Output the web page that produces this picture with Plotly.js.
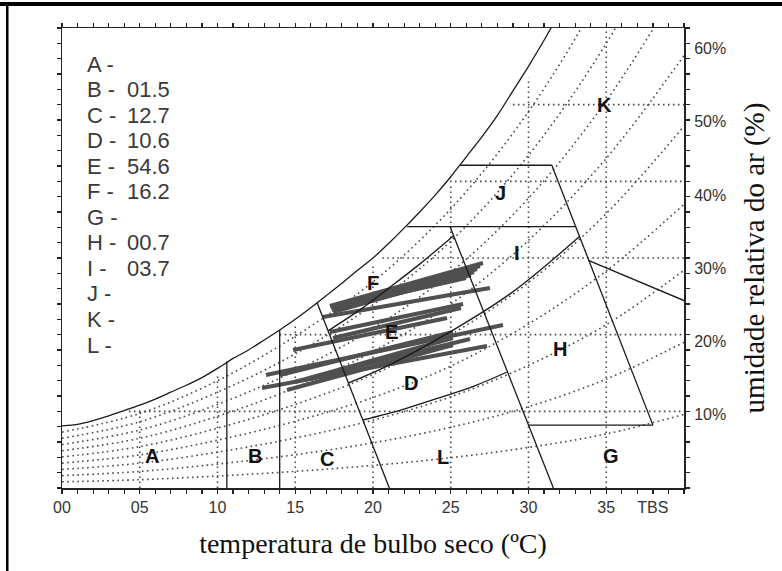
<!DOCTYPE html>
<html><head><meta charset="utf-8">
<script src="https://cdn.plot.ly/plotly-3.0.1.min.js"></script>
<style>html,body{margin:0;padding:0;background:#fff;}</style>
</head><body>
<div id="chart" style="width:782px;height:571px;"></div>
<script>
// Saturation curve (100% RH)
const satT = [0,1,2,3,4,5,6,7,8,9,10,11,12,13,14,15,16,17,18,19,20,21,22,23,24,25,26,27,28,29,30,31,32,33,34,35,36,37,38,39,40];
const satW = [8.1,8.3,8.8,9.4,10.1,10.8,11.6,12.5,13.4,14.4,15.6,16.9,18.0,19.3,20.6,22.0,23.5,25.1,26.7,28.4,30.0,31.9,33.9,36.0,38.2,40.6,43.2,45.8,48.6,51.8,55.0,58.4,62.0,65.8,69.8,74.2,78.8,83.8,89.0,94.6,100.4];

// Relative humidity dotted curves (10%..90%)
const rhT  = [0,5,10,15,20,25,30,35,40];
const rh10 = [0.81,1.08,1.56,2.17,2.94,3.95,5.29,7.05,9.6];
const rh20 = [1.62,2.16,3.12,4.34,5.89,7.92,10.6,14.2,19.0];
const rh30 = [2.43,3.24,4.68,6.52,8.85,11.9,16.0,21.3,28.4];
const rh40 = [3.24,4.32,6.24,8.71,11.8,15.9,21.4,28.3,37.0];
const rh50 = [4.05,5.40,7.80,10.9,14.8,20.0,26.8,35.8,47.2];
const rh60 = [4.86,6.48,9.36,13.1,17.8,24.0,32.3,43.0,56.4];
const rh70 = [5.67,7.56,10.9,15.3,20.8,28.1,37.8,50.5,66.5];
const rh80 = [6.48,8.64,12.5,17.5,23.9,32.2,43.4,58.0,76.5];
const rh90 = [7.29,9.72,14.0,19.8,26.9,36.4,49.1,65.8,87.0];

// Dotted grid, clipped under the saturation curve
const gridX    = [5,10,15,20,25,30,35];
const gridXTop = [10.3,15.0,21.2,29.0,39.5,53.5,60];
const gridY      = [10,20,30,40,50];
const gridYStart = [4.3,14.0,20.6,24.95,29.0];

// Zone boundary segments
const zoneLinesX = [[10.6,10.6],[14.0,14.0],[16.4,21.05],[24.95,31.6],[22.2,33.0],[25.6,31.5],[31.5,38.0],[33.85,40],[30.0,38.0]];
const zoneLinesY = [[0,16.5],[0,20.6],[24.2,0],[34.1,0],[34.1,34.1],[42.1,42.1],[42.1,8.2],[29.7,24.45],[8.2,8.2]];

// Solid RH boundary curves
const curve80X = [17.11,19.2,21.1,23.0,25.18];
const curve80Y = [20.5,23.3,26.2,29.2,32.9];
const curve50X = [18.43,21.0,25.15,29.0,33.28];
const curve50Y = [13.7,16.0,20.6,25.6,32.8];
const curve30X = [19.35,22.0,24.3,26.5,28.6];
const curve30Y = [8.87,10.3,11.8,13.3,15.1];

// Recorded tracks (start/end)
const trackX0 = [17.23,17.30,17.36,17.43,17.56,17.75, 16.78,17.23,17.43,14.86, 13.12,12.86,14.47,14.02,14.98,15.95];
const trackY0 = [23.74,23.48,23.22,22.96,23.35,23.61, 22.30,20.35,19.56,18.00, 14.74,13.04,12.78,14.74,13.83,14.35];
const trackX1 = [27.07,26.88,26.69,26.50,26.30,25.98, 27.52,25.79,25.66,24.76, 28.36,27.33,25.14,25.14,25.14,26.24];
const trackY1 = [29.35,28.96,28.57,28.17,27.78,27.39, 26.09,24.00,23.48,22.17, 21.26,18.52,18.65,20.35,19.56,19.43];

// Zone labels
const zoneNames = ['A','B','C','D','E','F','G','H','I','J','K','L'];
const zoneLabelX = [5.79,12.41,17.02,22.44,21.16,20.0,35.3,32.0,29.24,28.17,34.9,24.5];
const zoneLabelY = [4.17,4.17,3.78,13.76,20.4,26.8,4.17,18.1,30.65,38.5,50.0,4.04];
const zoneValues = ['','01.5','12.7','10.6','54.6','16.2','','00.7','03.7','','',''];

// Axis ticks
const xTickVals = [0,5,10,15,20,25,30,35,38];
const xTickText = ['00','05','10','15','20','25','30','35','TBS'];
const yTickVals = [10,20,30,40,50,60];
const yTickText = ['10%','20%','30%','40%','50%','60%'];

const DOT = {color:'#4a4a4a', width:1.6, dash:'1.6px,3.4px'};
const SOLID = {color:'#1a1a1a', width:1.3};
const traces = [];

// grid
gridX.forEach((gx,i)=>traces.push({x:[gx,gx], y:[0,gridXTop[i]], mode:'lines', line:DOT, hoverinfo:'skip'}));
gridY.forEach((gy,i)=>traces.push({x:[gridYStart[i],40], y:[gy,gy], mode:'lines', line:DOT, hoverinfo:'skip'}));
// RH curves
[rh10,rh20,rh30,rh40,rh50,rh60,rh70,rh80,rh90].forEach(arr=>traces.push({x:rhT, y:arr, mode:'lines', line:Object.assign({shape:'spline', smoothing:1}, DOT), hoverinfo:'skip'}));

// tracks
const tx=[], ty=[];
trackX0.forEach((v,i)=>{tx.push(trackX0[i],trackX1[i],null); ty.push(trackY0[i],trackY1[i],null);});
traces.push({x:tx, y:ty, mode:'lines', line:{color:'#505050', width:4}, hoverinfo:'skip', connectgaps:false});

// saturation curve
traces.push({x:satT, y:satW, mode:'lines', line:{color:'#1a1a1a', width:1.3, shape:'spline', smoothing:0.6}, hoverinfo:'skip'});
// zone lines
zoneLinesX.forEach((lx,i)=>traces.push({x:lx, y:zoneLinesY[i], mode:'lines', line:SOLID, hoverinfo:'skip'}));
[[curve80X,curve80Y],[curve50X,curve50Y],[curve30X,curve30Y]].forEach(c=>traces.push({x:c[0], y:c[1], mode:'lines', line:Object.assign({shape:'spline', smoothing:1}, SOLID), hoverinfo:'skip'}));

// dummy trace for right / top axes
traces.push({x:[0], y:[0], xaxis:'x2', yaxis:'y2', mode:'markers', marker:{opacity:0}, hoverinfo:'skip'});

const annotations = [];
zoneNames.forEach((n,i)=>annotations.push({x:zoneLabelX[i], y:zoneLabelY[i], xref:'x', yref:'y', text:'<b>'+n+'</b>', showarrow:false, font:{family:'Liberation Sans, Arial, sans-serif', size:20, color:'#111'}}));
// legend listing at left
const PX = v => (v-62)/15.55;
const PY = v => (488-v)/7.667;
const LEGFONT = {family:'Liberation Sans, Arial, sans-serif', size:22, color:'#3a3a3a'};
zoneNames.forEach((n,i)=>{
  const cy = 64 + i*25.55;
  annotations.push({x:PX(86), y:PY(cy), xref:'x', yref:'y', xanchor:'left', yanchor:'middle', text:n+' -', showarrow:false, borderpad:0, font:LEGFONT});
  if (zoneValues[i]) annotations.push({x:PX(126), y:PY(cy), xref:'x', yref:'y', xanchor:'left', yanchor:'middle', text:zoneValues[i], showarrow:false, borderpad:0, font:LEGFONT});
});

const layout = {
  width:782, height:571,
  margin:{l:62, r:98, t:28, b:83},
  paper_bgcolor:'#fff', plot_bgcolor:'#fff',
  showlegend:false,
  xaxis:{range:[0,40], showline:true, linecolor:'#222', linewidth:1.5, mirror:true,
    ticks:'outside', ticklen:4, tickcolor:'#222', tickwidth:1.2,
    tickmode:'array', tickvals:xTickVals, ticktext:xTickText,
    minor:{dtick:1, tick0:0, ticks:'outside', ticklen:4, tickcolor:'#222', tickwidth:1.2},
    showgrid:false, zeroline:false,
    tickfont:{family:'Liberation Sans, Arial, sans-serif', size:16, color:'#333'},
    title:{text:'temperatura de bulbo seco (ºC)', font:{family:'Liberation Serif, Times New Roman, serif', size:28, color:'#111'}, standoff:18}},
  xaxis2:{overlaying:'x', side:'top', range:[0,40], dtick:1, tick0:0, ticks:'outside', ticklen:4, tickcolor:'#222', tickwidth:1.2,
    showticklabels:false, showline:false, showgrid:false, zeroline:false},
  yaxis:{range:[0,60], showline:true, linecolor:'#222', linewidth:1.5, mirror:'ticks',
    ticks:'outside', ticklen:4, tickcolor:'#222', tickwidth:1.2, dtick:2, tick0:0,
    showticklabels:false, showgrid:false, zeroline:false},
  yaxis2:{overlaying:'y', side:'right', range:[0,62.8], tickmode:'array', tickvals:yTickVals, ticktext:yTickText,
    ticks:'outside', ticklen:6, tickcolor:'rgba(0,0,0,0)', showline:false, showgrid:false, zeroline:false,
    tickfont:{family:'Liberation Sans, Arial, sans-serif', size:16, color:'#333'},
    title:{text:'umidade relativa do ar (%)', font:{family:'Liberation Serif, Times New Roman, serif', size:29, color:'#111'}, standoff:18}},
  annotations:annotations,
  shapes:[
    {type:'rect', xref:'paper', yref:'paper', x0:(0-62)/622, x1:(782-62)/622, y0:(488-6)/460, y1:(488-2)/460, fillcolor:'#000', line:{width:0}, layer:'above'},
    {type:'rect', xref:'paper', yref:'paper', x0:(6-62)/622, x1:(8.5-62)/622, y0:(488-571)/460, y1:(488-2)/460, fillcolor:'#000', line:{width:0}, layer:'above'}
  ]
};
Plotly.newPlot('chart', traces, layout, {staticPlot:true, displayModeBar:false});
</script>
</body></html>
